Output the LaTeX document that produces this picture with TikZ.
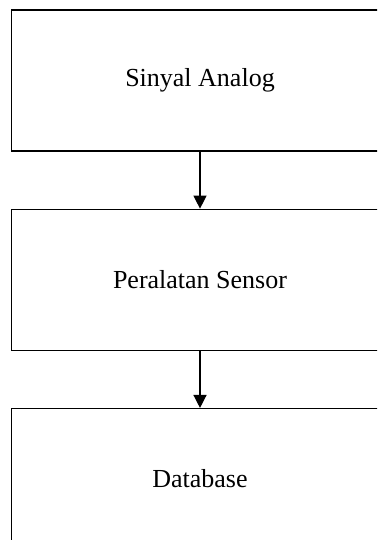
\documentclass[tikz,border=0pt]{standalone}
\usepackage{fontspec}
\setmainfont{Liberation Serif}
\usetikzlibrary{positioning,arrows.meta}
\tikzset{
  blok/.style={draw,line width=1.3pt,minimum width=377pt,minimum height=141pt,
    font=\fontsize{26}{30}\selectfont},
  panah/.style={line width=1.3pt,-{Triangle[length=13pt,width=13pt]}}
}
\begin{document}
\begin{tikzpicture}[x=1pt,y=1pt,node distance=57pt]
            \useasboundingbox (0,0) rectangle (377,-540);
            \clip (0,0) rectangle (377,-540);
            \node[blok] (sinyal) at (200,-80.5) {Sinyal Analog};
            \node[blok,below=of sinyal] (sensor) {Peralatan Sensor};
            \node[blok,below=of sensor] (database) {Database};
            \draw[panah] (sinyal) -- (sensor);
            \draw[panah] (sensor) -- (database);
        \end{tikzpicture}
\end{document}
